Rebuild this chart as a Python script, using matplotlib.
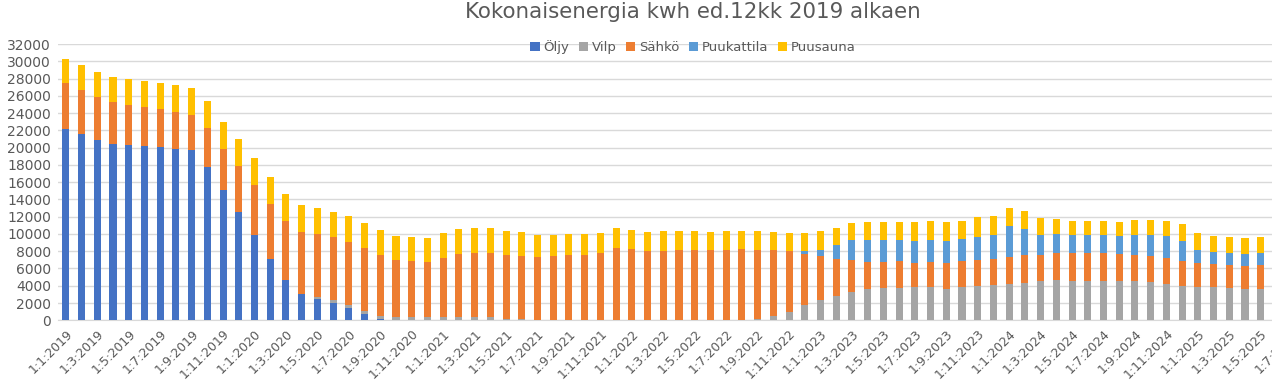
import matplotlib.pyplot as plt
import numpy as np

# monthly categories Jan 2019 .. Jul 2025 (last two months empty)
months = [(m, y) for y in range(2019, 2026) for m in range(1, 13)][:79]
labels = ["1:%d:%d" % (m, y) for m, y in months]

oljy = [22200, 21540, 20920, 20460, 20300, 20190, 20030, 19880, 19760, 17800,
        15050, 12580, 9840, 7140, 4710, 3090, 2430, 2050, 1390, 730,
        150] + [0] * 58
vilp = [0] * 16 + [230, 310, 350, 350, 350, 390, 390, 390, 390, 390,
                   390, 390, 150, 150] + [0] * 14 + \
       [190, 500, 970, 1740, 2320, 2780, 3280, 3630, 3780, 3780,
        3820, 3820, 3670, 3860, 3980, 4050, 4170, 4360, 4520, 4670,
        4590, 4560, 4560, 4560, 4560, 4400, 4170, 3940, 3860, 3820,
        3710, 3590, 3670, 0, 0]
sahko = [5320, 5130, 4980, 4860, 4670, 4560, 4440, 4290, 4020, 4480,
         4830, 5290, 5830, 6370, 6830, 7180, 7370, 7260, 7370, 7330,
         7100, 6640, 6520, 6410, 6870, 7330, 7450, 7450, 7410, 7330,
         7370, 7450, 7570, 7570, 7840, 8420, 8260, 8030, 8070, 8180,
         8180, 8180, 8180, 8260, 7990, 7680, 7100, 5980, 5100, 4320,
         3670, 3130, 2930, 3050, 2860, 2900, 2970, 3010, 2970, 3010,
         3170, 3170, 3090, 3130, 3170, 3200, 3200, 3090, 3050, 3050,
         3010, 2970, 2740, 2740, 2740, 2700, 2740, 0, 0]
puukattila = [0] * 47 + [350, 770, 1580, 2390, 2590, 2550, 2510, 2550, 2550,
                         2550, 2510, 2740, 2820, 3550, 3090, 2320, 2200, 2160, 2160,
                         2160, 2160, 2320, 2470, 2550, 2320, 1500, 1390, 1390, 1390,
                         1390, 0, 0]
puusauna = [2780, 2860, 2820, 2900, 2970, 3010, 3050, 3090, 3130, 3160,
            3090, 3130, 3090, 3090, 3050, 3090, 2930, 2890, 2970, 2900,
            2860, 2780, 2740, 2700, 2820, 2860, 2860, 2820, 2820, 2740,
            2510, 2430, 2430, 2430, 2280, 2240, 2200, 2200, 2240, 2200,
            2160, 2090, 2200, 2090, 2120, 2050, 2010, 2080, 2120, 1970,
            1970, 2050, 2120, 2090, 2120, 2200, 2160, 2120, 2280, 2200,
            2120, 2080, 1930, 1700, 1540, 1580, 1580, 1580, 1700, 1740,
            1810, 1930, 1970, 1810, 1810, 1850, 1850, 0, 0]

series = [("Öljy", oljy, "#4472C4"),
          ("Vilp", vilp, "#A5A5A5"),
          ("Sähkö", sahko, "#ED7D31"),
          ("Puukattila", puukattila, "#5B9BD5"),
          ("Puusauna", puusauna, "#FFC000")]

txt = "#595959"
fig = plt.figure(figsize=(12.72, 3.85), dpi=100)
ax = fig.add_axes([58 / 1272, 1 - 320.3 / 385, 1242 / 1272, 276.3 / 385])

x = np.arange(len(labels))
bottom = np.zeros(len(labels))
for name, vals, col in series:
    vals = np.array(vals, dtype=float)
    ax.bar(x, vals, 0.45, bottom=bottom, color=col, label=name, zorder=3)
    bottom += vals

ax.set_xlim(-0.5, len(labels) - 0.5)
ax.set_ylim(0, 32000)
ax.set_yticks(range(0, 32001, 2000))
ax.tick_params(axis="y", length=0, labelsize=10, labelcolor=txt, pad=5)
ax.set_xticks(x[::2])
ax.set_xticklabels(labels[::2], rotation=45, ha="right", rotation_mode="anchor")
ax.tick_params(axis="x", length=0, labelsize=9, labelcolor=txt, pad=5)
ax.grid(axis="y", color="#D9D9D9", linewidth=1, zorder=0)
for s in ["top", "right", "left"]:
    ax.spines[s].set_visible(False)
ax.spines["bottom"].set_color("#D9D9D9")

fig.text(693 / 1272, 1 - 12 / 385, "Kokonaisenergia kwh ed.12kk 2019 alkaen",
         ha="center", va="center", fontsize=15.4, color=txt)
leg = fig.legend(loc="center", bbox_to_anchor=(693 / 1272, 1 - 47 / 385), ncol=5,
                 frameon=False, fontsize=9.5, handlelength=0.7, handleheight=0.7,
                 handletextpad=0.3, columnspacing=0.7)
for t in leg.get_texts():
    t.set_color(txt)

fig.savefig("out.png", dpi=100)
